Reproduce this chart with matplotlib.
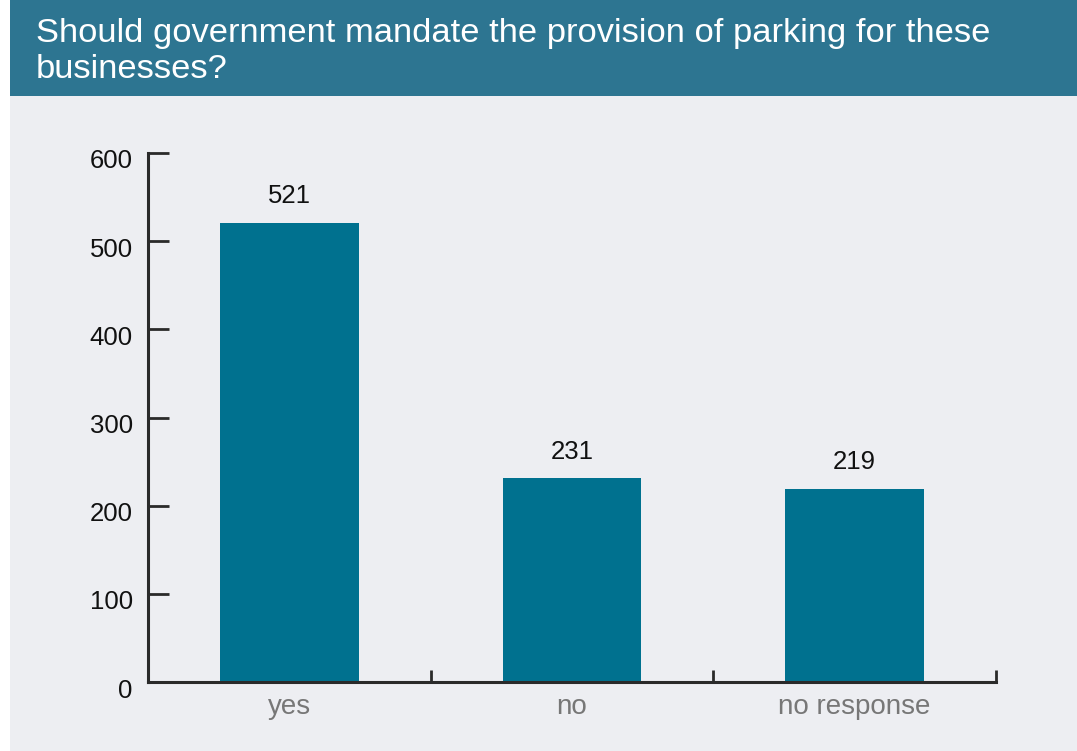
import matplotlib.pyplot as plt
from matplotlib.patches import Rectangle
from matplotlib.transforms import ScaledTranslation

# Survey answers
CATEGORIES = ["yes", "no", "no response"]
COUNTS = [521, 231, 219]
Y_TICKS = [0, 100, 200, 300, 400, 500, 600]
TITLE_LINES = ["Should government mandate the provision of parking for these",
               "businesses?"]

HEADER_COLOR = "#2D7591"
PANEL_COLOR = "#EDEEF2"
BAR_COLOR = "#00718F"
AXIS_COLOR = "#2A2A2A"

plt.rcParams["font.family"] = ["Liberation Sans", "DejaVu Sans"]

W, H = 1077, 751
fig = plt.figure(figsize=(W / 100, H / 100), dpi=100)
fig.patch.set_facecolor("white")

# Grey panel and teal header band, drawn behind the axes
fig.patches.append(Rectangle((10 / W, 0), 1 - 10 / W, 1, transform=fig.transFigure,
                             facecolor=PANEL_COLOR, edgecolor="none", zorder=-2))
fig.patches.append(Rectangle((10 / W, 1 - 96 / H), 1 - 10 / W, 96 / H, transform=fig.transFigure,
                             facecolor=HEADER_COLOR, edgecolor="none", zorder=-1))
for i, line in enumerate(TITLE_LINES):
    fig.text(36 / W, 1 - (42 + 36 * i) / H, line, color="white", fontsize=24.8,
             ha="left", va="baseline")

ax = fig.add_axes([148 / W, 1 - 682 / H, (996 - 148) / W, (682 - 153) / H])
ax.set_facecolor("none")

x = range(len(CATEGORIES))
ax.bar(x, COUNTS, width=0.49, color=BAR_COLOR, zorder=2)
for xi, v in zip(x, COUNTS):
    ax.annotate(str(v), (xi, v), xytext=(0, 14), textcoords="offset points",
                ha="center", va="baseline", fontsize=18.5, color="#111111")

ax.set_xlim(-0.5, len(CATEGORIES) - 0.5)
ax.set_ylim(0, 600)

for side in ("top", "right"):
    ax.spines[side].set_visible(False)
for side in ("left", "bottom"):
    ax.spines[side].set_linewidth(2.2)
    ax.spines[side].set_color(AXIS_COLOR)
    ax.spines[side].set_zorder(3)

ax.set_yticks(Y_TICKS)
ax.tick_params(axis="y", direction="in", length=15, width=2, color=AXIS_COLOR,
               labelsize=18.5, labelcolor="#111111", pad=11)
# numbers sit a little below their tick marks
shift = ScaledTranslation(0, -0.06, fig.dpi_scale_trans)
for lab in ax.get_yticklabels():
    lab.set_transform(lab.get_transform() + shift)

ax.set_xticks(list(x))
ax.set_xticklabels(CATEGORIES)
ax.tick_params(axis="x", which="major", length=0, pad=9, labelsize=20, labelcolor="#777777")
ax.set_xticks([i + 0.5 for i in x], minor=True)
ax.tick_params(axis="x", which="minor", direction="in", length=9, width=2, color=AXIS_COLOR)

fig.savefig("out.png", dpi=100, facecolor=fig.get_facecolor())
